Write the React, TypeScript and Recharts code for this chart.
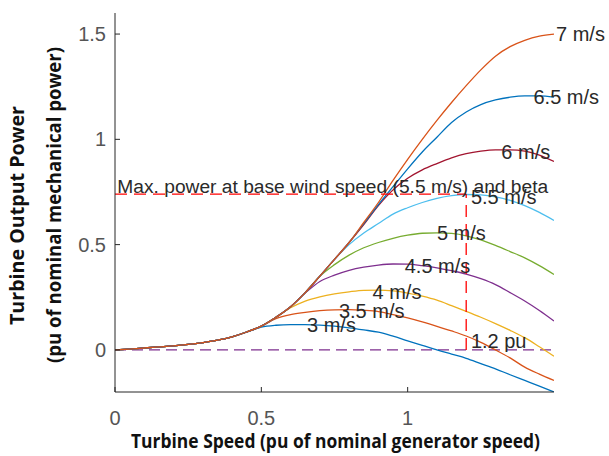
import { LineChart, Line, XAxis, YAxis, ReferenceLine, ReferenceDot } from "recharts";

// turbine speed, pu of nominal generator speed
const turbineSpeed = [
  0, 0.05, 0.1, 0.15, 0.2, 0.25, 0.3, 0.35, 0.4, 0.45, 0.5, 0.55, 0.6, 0.65, 0.7, 0.75,
  0.8, 0.85, 0.9, 0.95, 1, 1.05, 1.1, 1.15, 1.2, 1.25, 1.3, 1.35, 1.4, 1.45, 1.5,
];

// turbine output power (pu) per wind speed
const p3 = [0, 0.004, 0.009, 0.014, 0.019, 0.026, 0.035, 0.046, 0.062, 0.085, 0.108, 0.117, 0.12, 0.12, 0.118, 0.113, 0.105, 0.095, 0.084, 0.065, 0.043, 0.022, 0, -0.02, -0.04, -0.065, -0.09, -0.118, -0.145, -0.172, -0.2];
const p35 = [0, 0.004, 0.009, 0.014, 0.019, 0.026, 0.035, 0.046, 0.062, 0.085, 0.113, 0.148, 0.167, 0.178, 0.186, 0.19, 0.191, 0.188, 0.182, 0.168, 0.152, 0.133, 0.112, 0.09, 0.066, 0.036, 0, -0.038, -0.082, -0.115, -0.145];
const p4 = [0, 0.004, 0.009, 0.014, 0.019, 0.026, 0.035, 0.046, 0.062, 0.085, 0.113, 0.155, 0.2, 0.232, 0.252, 0.266, 0.276, 0.283, 0.284, 0.28, 0.27, 0.255, 0.236, 0.21, 0.183, 0.155, 0.125, 0.093, 0.058, 0.015, -0.03];
const p45 = [0, 0.004, 0.009, 0.014, 0.019, 0.026, 0.035, 0.046, 0.062, 0.085, 0.113, 0.155, 0.205, 0.27, 0.325, 0.355, 0.378, 0.393, 0.403, 0.408, 0.407, 0.4, 0.39, 0.376, 0.36, 0.338, 0.31, 0.272, 0.232, 0.187, 0.137];
const p5 = [0, 0.004, 0.009, 0.014, 0.019, 0.026, 0.035, 0.046, 0.062, 0.085, 0.113, 0.155, 0.205, 0.272, 0.35, 0.405, 0.45, 0.485, 0.51, 0.53, 0.545, 0.554, 0.556, 0.553, 0.542, 0.522, 0.496, 0.467, 0.437, 0.4, 0.358];
const p55 = [0, 0.004, 0.009, 0.014, 0.019, 0.026, 0.035, 0.046, 0.062, 0.085, 0.113, 0.155, 0.205, 0.272, 0.35, 0.43, 0.5, 0.555, 0.6, 0.645, 0.675, 0.7, 0.72, 0.733, 0.738, 0.736, 0.727, 0.71, 0.685, 0.653, 0.615];
const p6 = [0, 0.004, 0.009, 0.014, 0.019, 0.026, 0.035, 0.046, 0.062, 0.085, 0.113, 0.155, 0.205, 0.272, 0.35, 0.43, 0.51, 0.595, 0.685, 0.76, 0.815, 0.855, 0.885, 0.912, 0.932, 0.944, 0.95, 0.95, 0.944, 0.925, 0.895];
const p65 = [0, 0.004, 0.009, 0.014, 0.019, 0.026, 0.035, 0.046, 0.062, 0.085, 0.113, 0.155, 0.205, 0.272, 0.35, 0.43, 0.51, 0.6, 0.69, 0.775, 0.86, 0.94, 1.01, 1.08, 1.13, 1.165, 1.187, 1.2, 1.206, 1.206, 1.2];
const p7 = [0, 0.004, 0.009, 0.014, 0.019, 0.026, 0.035, 0.046, 0.062, 0.085, 0.113, 0.155, 0.205, 0.272, 0.35, 0.43, 0.51, 0.605, 0.7, 0.805, 0.905, 1.0, 1.09, 1.175, 1.255, 1.33, 1.395, 1.44, 1.47, 1.49, 1.5];

const windLabels = ["3 m/s", "3.5 m/s", "4 m/s", "4.5 m/s", "5 m/s", "5.5 m/s", "6 m/s", "6.5 m/s", "7 m/s"];
const labelSpeed = [0.656, 0.765, 0.88, 0.99, 1.1, 1.216, 1.32, 1.43, 1.5];
const labelPower = [0.12, 0.185, 0.275, 0.398, 0.555, 0.725, 0.94, 1.2, 1.5];

const basePower = 0.74;
const ratedSpeed = 1.2;

const xTicks = [0, 0.5, 1];
const yTicks = [0, 0.5, 1, 1.5];

const curves = [p3, p35, p4, p45, p5, p55, p6, p65, p7];
const colors = ["#0072BD", "#D95319", "#EDB120", "#7E2F8E", "#77AC30", "#4DBEEE", "#A2142F", "#0072BD", "#D95319"];

const rows = turbineSpeed.map((x, i) => {
  const row: Record<string, number> = { x };
  curves.forEach((c, k) => {
    row["s" + k] = c[i];
  });
  return row;
});

const axisColor = "#262626";
const font = "'Liberation Sans', Arial, sans-serif";

const textShape = (text: string, dx = 0, size = 20) => (p: any) => (
  <text x={p.cx + dx} y={p.cy} dy="0.35em" fontSize={size} fontFamily={font} fill="#2a2a2a">
    {text}
  </text>
);

export default function App() {
  return (
    <div style={{ position: "absolute", left: 0, top: 0, width: 609, height: 456, background: "#fff" }}>
      <LineChart width={609} height={456} data={rows} margin={{ top: 13, right: 55, bottom: 24, left: 0 }}>
        <XAxis
          type="number"
          dataKey="x"
          domain={[0, 1.5]}
          ticks={xTicks}
          interval={0}
          allowDataOverflow
          height={40}
          tickSize={-5}
          tickMargin={24}
          stroke={axisColor}
          tick={{ fill: "#555", fontSize: 20, fontFamily: font }}
        />
        <XAxis
          xAxisId="top"
          orientation="top"
          type="number"
          dataKey="x"
          domain={[0, 1.5]}
          ticks={xTicks}
          interval={0}
          allowDataOverflow
          height={0}
          tickSize={-5}
          tick={false}
          stroke={axisColor}
        />
        <YAxis
          type="number"
          domain={[-0.2, 1.6]}
          ticks={yTicks}
          interval={0}
          allowDataOverflow
          width={115}
          tickSize={-5}
          tickMargin={14}
          stroke={axisColor}
          tick={{ fill: "#555", fontSize: 20, fontFamily: font }}
        />
        <YAxis
          yAxisId="right"
          orientation="right"
          type="number"
          domain={[-0.2, 1.6]}
          ticks={yTicks}
          interval={0}
          allowDataOverflow
          width={0}
          tickSize={-5}
          tick={false}
          stroke={axisColor}
        />
        <ReferenceLine y={0} stroke="#7E2F8E" strokeWidth={1.3} strokeDasharray="11 6" />
        {curves.map((_, k) => (
          <Line
            key={k}
            dataKey={"s" + k}
            stroke={colors[k]}
            strokeWidth={1.3}
            dot={false}
            type="monotone"
            isAnimationActive={false}
          />
        ))}
        <ReferenceLine
          segment={[{ x: 0, y: basePower }, { x: ratedSpeed, y: basePower }]}
          stroke="#ff0000"
          strokeWidth={1.3}
          strokeDasharray="12 7"
        />
        <ReferenceLine
          segment={[{ x: ratedSpeed, y: 0 }, { x: ratedSpeed, y: basePower }]}
          stroke="#ff0000"
          strokeWidth={1.3}
          strokeDasharray="12 7"
        />
        {windLabels.map((t, k) => (
          <ReferenceDot key={t} x={labelSpeed[k]} y={labelPower[k]} r={0} shape={textShape(t, k === 8 ? 2 : 0)} />
        ))}
        <ReferenceDot x={0.008} y={0.777} r={0} shape={textShape("Max. power at base wind speed (5.5 m/s) and beta", 0, 19.2)} />
        <ReferenceDot x={1.216} y={0.04} r={0} shape={textShape("1.2 pu")} />
      </LineChart>
      <svg width={609} height={456} style={{ position: "absolute", left: 0, top: 0, pointerEvents: "none" }}>
        <g fontFamily="'Open Sans', sans-serif" fontWeight="bold" fontSize={19} fill="#111">
          <text x={335.5} y={448} textAnchor="middle" textLength={409} lengthAdjust="spacingAndGlyphs">
            Turbine Speed (pu of nominal generator speed)
          </text>
          <text x={24} y={215.5} textAnchor="middle" transform="rotate(-90 24 215.5)" textLength={219} lengthAdjust="spacingAndGlyphs">
            Turbine Output Power
          </text>
          <text x={61} y={205} textAnchor="middle" transform="rotate(-90 61 205)" textLength={316} lengthAdjust="spacingAndGlyphs">
            (pu of nominal mechanical power)
          </text>
        </g>
      </svg>
    </div>
  );
}
